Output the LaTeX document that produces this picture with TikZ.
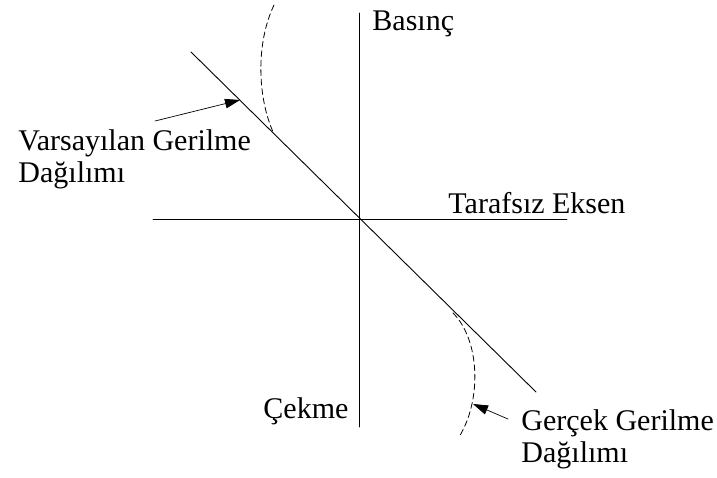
\documentclass[tikz,border=0pt]{standalone}
\usepackage{fontspec}
\setmainfont{Liberation Serif}
\usepackage{tikz}
\usetikzlibrary{arrows.meta}

\begin{document}
\begin{tikzpicture}[x=1pt,y=-1pt,>={Triangle[length=15pt,width=9.5pt]},line width=0.9pt,line cap=round,
  lbl/.style={anchor=base west,inner sep=0pt,align=left,font=\fontsize{30}{32}\selectfont},
  curve/.style={dash pattern=on 6pt off 3.5pt,line width=0.8pt}]
\useasboundingbox (0,0) rectangle (717,477);
% axes and assumed distribution
\draw (359,13) -- (359,427);
\draw (153,219) -- (567,219);
\draw (191,52) -- (536,392);
% actual distribution
\draw[curve] (274,5) .. controls (255,45) and (258,100) .. (274,134);
\draw[curve] (453,313) .. controls (480,340) and (482,400) .. (459,437);
% labels
\node[lbl] (basinc) at (372,30) {Basınç};
\node[lbl] (eksen) at (448,213) {Tarafsız Eksen};
\node[lbl] (cekme) at (263,418) {Çekme};
\node[lbl] (varsayilan) at (18,182) {Varsayılan Gerilme\\Dağılımı};
\node[lbl] (gercek) at (521,462) {Gerçek Gerilme\\Dağılımı};
\coordinate (vtail) at (155,121);
\coordinate (vtip) at (240,100);
\coordinate (gtail) at (508,419);
\coordinate (gtip) at (473,404);
\draw[->,line width=0.7pt] (vtail) -- (vtip);
\draw[->,line width=0.7pt] (gtail) -- (gtip);
\end{tikzpicture}
\end{document}
